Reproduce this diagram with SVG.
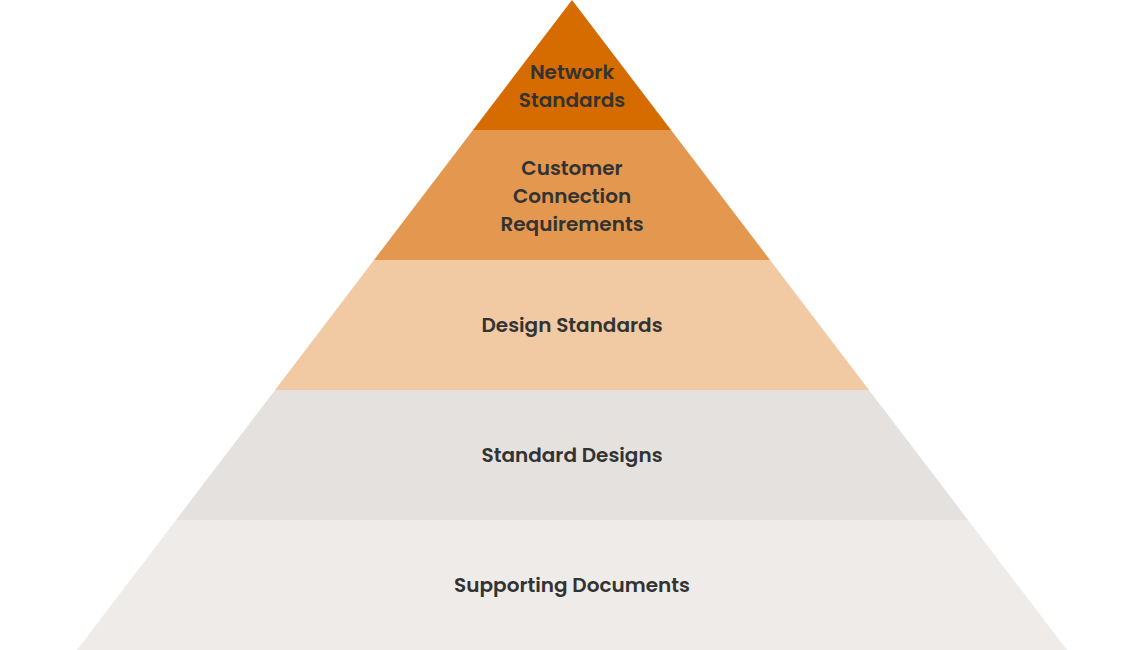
<svg xmlns="http://www.w3.org/2000/svg" width="1145" height="650" viewBox="0 0 1145 650">
<style>
text{font-family:"Poppins","Inter","Open Sans","Liberation Sans",sans-serif;font-weight:600;font-size:20px;fill:#333333;text-anchor:middle}
</style>
<rect width="1145" height="650" fill="#ffffff"/>
<g id="layer1"><polygon points="572,0 671,130 473,130" fill="#D66B00"/>
<text x="572" y="79">Network</text><text x="572" y="107">Standards</text></g>
<g id="layer2"><polygon points="473,130 671,130 770,260 374,260" fill="#E3974F"/>
<text x="572" y="175">Customer</text><text x="572" y="203">Connection</text><text x="572" y="231">Requirements</text></g>
<g id="layer3"><polygon points="374,260 770,260 869,390 275,390" fill="#F1CAA4"/>
<text x="572" y="332">Design Standards</text></g>
<g id="layer4"><polygon points="275,390 869,390 968,520 176,520" fill="#E5E1DE"/>
<text x="572" y="462">Standard Designs</text></g>
<g id="layer5"><polygon points="176,520 968,520 1067,650 77,650" fill="#EFEBE8"/>
<text x="572" y="592">Supporting Documents</text></g>
<g id="connectors"></g>
</svg>
